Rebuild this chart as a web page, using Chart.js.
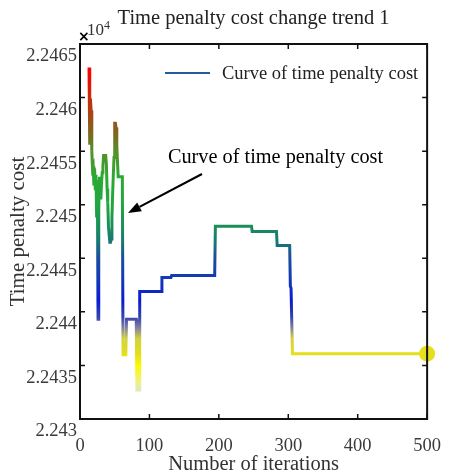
<!DOCTYPE html>
<html>
<head>
<meta charset="utf-8">
<script src="https://cdn.jsdelivr.net/npm/chart.js@4.4.1/dist/chart.umd.min.js"></script>
<style>
  html, body { margin: 0; padding: 0; background: #fff; }
</style>
</head>
<body>
<canvas id="trendChart" width="457" height="473"></canvas>
<script>
// iteration numbers and the time penalty cost
const iterations = [
  13, 14, 15, 16, 17, 18, 19, 20, 21, 22, 23, 24, 25, 26, 27, 28, 29, 30,
  31, 32, 33, 34, 35, 36, 37, 38, 39, 40, 41, 42, 43, 44, 45, 46, 47, 48,
  49, 50, 51, 52, 53, 54, 55, 61, 62, 66, 67, 81, 82, 85, 86, 117, 118,
  131, 132, 194, 195, 247, 248, 283, 284, 302, 303, 304, 306, 500
];
const penaltyCost = [
  22462.8, 22455.6, 22459.9, 22458.8, 22455.0, 22453.4, 22453.6, 22451.8,
  22453.4, 22451.5, 22452.8, 22448.8, 22452.3, 22439.3, 22449.5, 22452.6,
  22451.3, 22450.5, 22452.0, 22453.0, 22453.6, 22454.6, 22454.6, 22454.6,
  22454.6, 22453.8, 22451.5, 22450.2, 22448.0, 22447.2, 22446.5, 22446.5,
  22446.8, 22448.8, 22451.0, 22452.8, 22454.4, 22457.6, 22457.6, 22457.2,
  22455.6, 22454.0, 22452.6, 22452.6, 22436.0, 22436.0, 22439.3, 22439.3,
  22432.7, 22432.7, 22441.9, 22441.9, 22443.2, 22443.2, 22443.4, 22443.4,
  22448.0, 22448.0, 22447.5, 22447.5, 22446.2, 22446.2, 22442.4, 22442.2,
  22436.1, 22436.1
];
const xTicks = [0, 100, 200, 300, 400, 500];
const yTicks = [22430, 22435, 22440, 22445, 22450, 22455, 22460, 22465];
const yTickLabels = ['2.243', '2.2435', '2.244', '2.2445', '2.245', '2.2455', '2.246', '2.2465'];
const seriesName = 'Curve of time penalty cost';

// colour along the value axis (red high -> green -> blue -> yellow low)
const colourStops = [
  [22465, '#ff0000'], [22462, '#f20800'], [22459, '#b33c12'], [22456.5, '#7a6a22'],
  [22455, '#55902a'], [22452.5, '#2aaa32'], [22450, '#22a63e'], [22448, '#1a8e58'],
  [22446.5, '#1a7676'], [22445, '#1a4ca0'], [22443, '#1238b8'], [22441, '#0a1cd0'],
  [22439.5, '#3444b0'], [22438.5, '#8282a0'], [22437.5, '#d2d240'], [22436, '#e4e01a'],
  [22435, '#fafa00'], [22433.5, '#f0f080'], [22432, '#d4e2f0'], [22430, '#d4e2f0']
];

const serif = 'Liberation Serif, Times New Roman, serif';

function valueGradient(context) {
  const chart = context.chart;
  const area = chart.chartArea;
  if (!area) return '#1a4ca0';
  const y = chart.scales.y;
  const top = y.getPixelForValue(y.max);
  const bottom = y.getPixelForValue(y.min);
  const g = chart.ctx.createLinearGradient(0, top, 0, bottom);
  colourStops.forEach(([v, c]) => {
    const off = (y.getPixelForValue(v) - top) / (bottom - top);
    g.addColorStop(Math.min(1, Math.max(0, off)), c);
  });
  return g;
}

// frame, inner tick marks, exponent, legend and the arrow note
const decorations = {
  id: 'decorations',
  afterDraw(chart) {
    const ctx = chart.ctx;
    const a = chart.chartArea;
    const xs = chart.scales.x, ys = chart.scales.y;
    ctx.save();
    ctx.strokeStyle = '#111';
    ctx.lineWidth = 2;
    ctx.strokeRect(a.left, a.top, a.right - a.left, a.bottom - a.top);

    ctx.lineWidth = 1.5;
    const tl = 5;
    ctx.beginPath();
    xTicks.forEach(v => {
      const px = xs.getPixelForValue(v);
      ctx.moveTo(px, a.bottom); ctx.lineTo(px, a.bottom - tl);
      ctx.moveTo(px, a.top); ctx.lineTo(px, a.top + tl);
    });
    yTicks.forEach(v => {
      const py = ys.getPixelForValue(v);
      ctx.moveTo(a.left, py); ctx.lineTo(a.left + tl, py);
      ctx.moveTo(a.right, py); ctx.lineTo(a.right - tl, py);
    });
    ctx.stroke();

    // title
    ctx.fillStyle = '#222';
    ctx.font = '20.5px ' + serif;
    ctx.textAlign = 'center';
    ctx.textBaseline = 'middle';
    ctx.fillText('Time penalty cost change trend 1', (a.left + a.right) / 2, 19);

    // x10^4
    ctx.textAlign = 'left';
    ctx.fillStyle = '#000';
    ctx.font = 'bold 14px DejaVu Sans, sans-serif';
    ctx.fillText('\u00d7', a.left - 2, a.top - 7);
    ctx.fillStyle = '#333';
    ctx.font = '17px ' + serif;
    ctx.fillText('10', a.left + 7, a.top - 13);
    ctx.font = '12px ' + serif;
    ctx.fillText('4', a.left + 24, a.top - 18);

    // legend
    ctx.strokeStyle = '#245aa2';
    ctx.lineWidth = 2;
    ctx.beginPath();
    ctx.moveTo(165, 73); ctx.lineTo(210, 73);
    ctx.stroke();
    ctx.fillStyle = '#222';
    ctx.font = '18.5px ' + serif;
    ctx.fillText(seriesName, 222, 74);

    // annotation
    ctx.fillStyle = '#000';
    ctx.font = '20.3px ' + serif;
    ctx.textAlign = 'center';
    ctx.fillText(seriesName, 275.5, 158);
    const x0 = 202, y0 = 174, x1 = 128, y1 = 213;
    const ang = Math.atan2(y1 - y0, x1 - x0);
    const hl = 13, hw = 5;
    const bx = x1 - hl * Math.cos(ang), by = y1 - hl * Math.sin(ang);
    ctx.strokeStyle = '#000';
    ctx.lineWidth = 2;
    ctx.beginPath();
    ctx.moveTo(x0, y0); ctx.lineTo(bx, by);
    ctx.stroke();
    ctx.beginPath();
    ctx.moveTo(x1, y1);
    ctx.lineTo(bx + hw * Math.sin(ang), by - hw * Math.cos(ang));
    ctx.lineTo(bx - hw * Math.sin(ang), by + hw * Math.cos(ang));
    ctx.closePath();
    ctx.fill();
    ctx.restore();
  }
};

const lastIndex = iterations.length - 1;

new Chart(document.getElementById('trendChart'), {
  type: 'line',
  data: {
    datasets: [{
      label: seriesName,
      data: iterations.map((it, i) => ({ x: it, y: penaltyCost[i] })),
      borderColor: valueGradient,
      borderWidth: 3,
      tension: 0,
      fill: false,
      pointRadius: ctx => ctx.dataIndex === lastIndex ? 6.5 : 0,
      pointHoverRadius: 0,
      pointBackgroundColor: '#e6e01c',
      pointBorderColor: '#e6e01c',
      clip: false
    }]
  },
  options: {
    responsive: false,
    animation: false,
    devicePixelRatio: 1,
    layout: { padding: { top: 44, right: 19, left: 0, bottom: 0 } },
    plugins: {
      legend: { display: false },
      title: { display: false },
      tooltip: { enabled: false }
    },
    scales: {
      x: {
        type: 'linear',
        min: 0,
        max: 500,
        afterBuildTicks: s => { s.ticks = xTicks.map(v => ({ value: v })); },
        afterFit: s => { s.height = 54; },
        grid: { display: false, drawTicks: false },
        border: { display: false },
        ticks: {
          padding: 16,
          color: '#3a3a3a',
          font: { family: serif, size: 18.5 },
          maxRotation: 0,
          callback: v => String(v)
        },
        title: {
          display: true,
          text: 'Number of iterations',
          color: '#333',
          font: { family: serif, size: 20.5, lineHeight: 1 },
          padding: { top: 0, bottom: -1.5 }
        }
      },
      y: {
        type: 'linear',
        min: 22430,
        max: 22465,
        afterBuildTicks: s => { s.ticks = yTicks.map(v => ({ value: v })); },
        afterFit: s => { s.width = 80; },
        grid: { display: false, drawTicks: false },
        border: { display: false },
        ticks: {
          padding: 3,
          labelOffset: 12.5,
          color: '#3a3a3a',
          font: { family: serif, size: 18.5 },
          callback: (v, i) => yTickLabels[i]
        },
        title: {
          display: true,
          text: 'Time penalty cost',
          color: '#333',
          font: { family: serif, size: 21, lineHeight: 1 },
          padding: { top: 8, bottom: 0 }
        }
      }
    }
  },
  plugins: [decorations]
});
</script>
</body>
</html>
